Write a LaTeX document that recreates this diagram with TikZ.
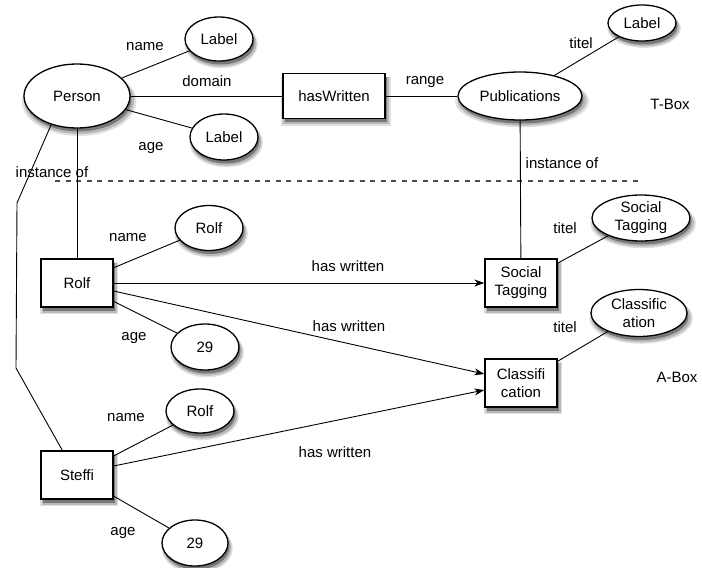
\documentclass[tikz,border=0pt]{standalone}
\usepackage{fontspec}
\setmainfont{Liberation Sans}
\usetikzlibrary{shapes.geometric,shadows,arrows.meta}

\begin{document}
\begin{tikzpicture}[x=1pt,y=-1pt,line width=0.9pt,
  font=\fontsize{15}{18}\selectfont,
  softshadow/.style={
    general shadow={shadow xshift=2pt,shadow yshift=-5pt,shadow scale=1.08,fill=black,opacity=0.12},
    general shadow={shadow xshift=2pt,shadow yshift=-4.5pt,shadow scale=1.04,fill=black,opacity=0.18},
    general shadow={shadow xshift=1.5pt,shadow yshift=-3.5pt,fill=black,opacity=0.35}},
  concept/.style={ellipse,draw,line width=1.3pt,fill=white,inner sep=0pt,align=center,softshadow},
  thing/.style={rectangle,draw,line width=1.3pt,fill=white,inner sep=0pt,align=center,softshadow},
  tag/.style={inner sep=0pt},
  hw/.style={-{Stealth[length=10pt,width=7pt,inset=3pt]}}]

\useasboundingbox (0,0) rectangle (702,568);

% ---- T-Box ----
\node[concept,minimum width=106pt,minimum height=64pt] (person) at (77,96) {Person};
\node[concept,minimum width=68pt,minimum height=44pt] (pname) at (219,39) {Label};
\node[concept,minimum width=68pt,minimum height=46pt] (page) at (224,137) {Label};
\node[thing,minimum width=102pt,minimum height=45pt] (haswritten) at (334,96) {hasWritten};
\node[concept,minimum width=124pt,minimum height=48pt] (pubs) at (520,96) {Publications};
\node[concept,minimum width=68pt,minimum height=36pt] (ptitel) at (642,23) {Label};
\node[tag] (tbox) at (670,104) {T-Box};

\draw (person) -- (pname);
\draw (person) -- (page);
\draw (person) -- (haswritten);
\draw (haswritten) -- (pubs);
\draw (pubs) -- (ptitel);

\node[tag] (lname) at (145,47) {name};
\node[tag] (lage) at (151,148) {age};
\node[tag] (ldomain) at (207,81) {domain};
\node[tag] (lrange) at (425,82) {range};
\node[tag] (ltitel) at (581,43) {titel};

% ---- separator ----
\coordinate (sepL) at (55,181);
\coordinate (sepR) at (642,181);
\draw[black!70,line width=1.1pt,dash pattern=on 5pt off 5.5pt] (sepL) -- (sepR);

% ---- A-Box ----
\node[thing,minimum width=72pt,minimum height=48pt] (rolf) at (77,283) {Rolf};
\node[concept,minimum width=68pt,minimum height=45pt] (rname) at (209,228) {Rolf};
\node[concept,minimum width=68pt,minimum height=46pt] (rage) at (205,347) {29};

\node[thing,minimum width=72pt,minimum height=48pt] (steffi) at (77,475) {Steffi};
\node[concept,minimum width=68pt,minimum height=44pt] (sname) at (200,411) {Rolf};
\node[concept,minimum width=66pt,minimum height=46pt] (sage) at (195,543) {29};

\node[thing,minimum width=72pt,minimum height=48pt] (social) at (521,283) {Social\\Tagging};
\node[concept,minimum width=98pt,minimum height=46pt] (stitle) at (641,218) {Social\\Tagging};
\node[thing,minimum width=72pt,minimum height=48pt] (classif) at (521,383) {Classifi\\cation};
\node[concept,minimum width=96pt,minimum height=47pt] (ctitle) at (639,313) {Classific\\ation};
\node[tag] (abox) at (677,377) {A-Box};

\draw (rolf) -- (rname);
\draw (rolf) -- (rage);
\draw (steffi) -- (sname);
\draw (steffi) -- (sage);
\draw (social) -- (stitle);
\draw (classif) -- (ctitle);

\draw[hw] (rolf) -- (social);
\draw[hw] ([yshift=-8pt]rolf.east) -- ([yshift=9pt]classif.west);
\draw[hw] ([yshift=9pt]steffi.east) -- ([yshift=-7pt]classif.west);

% instance-of links
\draw (person) -- (rolf);
\draw (pubs) -- (social);
\coordinate (bendA) at (17,203);
\coordinate (bendB) at (16,368);
\draw (person.228) -- (bendA) -- (bendB) -- ([xshift=22pt]steffi.north west);

\node[tag] (rnamel) at (128,238) {name};
\node[tag] (ragel) at (134,338) {age};
\node[tag] (snamel) at (126,418) {name};
\node[tag] (sagel) at (123,533) {age};
\node[tag] (stitl) at (565,228) {titel};
\node[tag] (ctitl) at (565,327) {titel};
\node[tag] (hw1) at (348,266) {has written};
\node[tag] (hw2) at (349,326) {has written};
\node[tag] (hw3) at (335,452) {has written};
\node[tag] (inst1) at (52,172) {instance of};
\node[tag] (inst2) at (562,163) {instance of};
\end{tikzpicture}
\end{document}
